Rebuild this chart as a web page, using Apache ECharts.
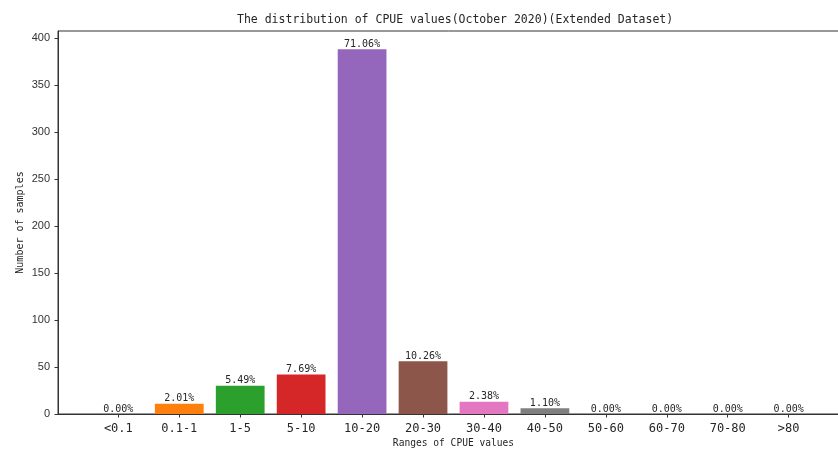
<!DOCTYPE html>
<html>
<head>
<meta charset="utf-8">
<script src="https://cdn.jsdelivr.net/npm/echarts@6/dist/echarts.min.js"></script>
<style>
  html, body { margin: 0; padding: 0; background: #fff; }
  #chart { width: 838px; height: 450px; }
</style>
</head>
<body>
<div id="chart"></div>
<script>
// CPUE range bins and sample counts per bin
const categories = ['<0.1', '0.1-1', '1-5', '5-10', '10-20', '20-30', '30-40', '40-50', '50-60', '60-70', '70-80', '>80'];
const counts = [0, 11, 30, 42, 388, 56, 13, 6, 0, 0, 0, 0];
const barColors = ['#1f77b4', '#ff7f0e', '#2ca02c', '#d62728', '#9467bd', '#8c564b', '#e377c2', '#7f7f7f', '#bcbd22', '#17becf', '#1f77b4', '#ff7f0e'];
const yTicks = [0, 50, 100, 150, 200, 250, 300, 350, 400];

const total = counts.reduce((a, b) => a + b, 0);
const positions = categories.map((_, i) => i);

// Axis limits with a 5% margin around the bars (bar width 0.8)
const xMin = -0.4 - 0.05 * 11.8;
const xMax = 11.4 + 0.05 * 11.8;
const yMax = Math.max(...counts) * 1.05;

const gridLeft = 58, gridTop = 31, gridWidth = 791, gridHeight = 383;
const pxPerUnit = gridWidth / (xMax - xMin);

const mono = '"DejaVu Sans Mono", monospace';
const textColor = '#262626';

const chart = echarts.init(document.getElementById('chart'), null, { renderer: 'canvas' });

chart.setOption({
  animation: false,
  backgroundColor: '#fff',
  title: {
    text: 'The distribution of CPUE values(October 2020)(Extended Dataset)',
    left: 232,
    top: 9,
    textStyle: { fontFamily: mono, fontSize: 11.5, fontWeight: 'normal', color: textColor }
  },
  grid: {
    left: gridLeft, top: gridTop, width: gridWidth, height: gridHeight,
    containLabel: false,
    outerBoundsMode: 'none',
    show: true, borderColor: '#333', borderWidth: 1, backgroundColor: 'transparent'
  },
  xAxis: {
    type: 'value',
    min: xMin,
    max: xMax,
    name: 'Ranges of CPUE values',
    nameLocation: 'middle',
    nameGap: 24,
    nameMoveOverlap: false,
    nameTextStyle: { fontFamily: mono, fontSize: 9.6, color: textColor },
    axisLine: { show: true, onZero: false, lineStyle: { color: '#333', width: 1 } },
    axisTick: { show: true, length: 3.5, inside: false, customValues: positions, lineStyle: { color: '#333' } },
    axisLabel: {
      customValues: positions,
      formatter: v => categories[Math.round(v)],
      fontFamily: mono, fontSize: 12, color: textColor, margin: 9
    },
    splitLine: { show: false }
  },
  yAxis: {
    type: 'value',
    min: 0,
    max: yMax,
    name: 'Number of samples',
    nameLocation: 'middle',
    nameGap: 33,
    nameMoveOverlap: false,
    nameTextStyle: { fontFamily: mono, fontSize: 10, color: textColor },
    axisLine: { show: true, onZero: false, lineStyle: { color: '#333', width: 1 } },
    axisTick: { show: true, length: 3.5, customValues: yTicks, lineStyle: { color: '#333' } },
    axisLabel: {
      customValues: yTicks,
      fontFamily: '"Liberation Sans", Arial, sans-serif', fontSize: 11, color: '#333', margin: 8
    },
    splitLine: { show: false }
  },
  series: [{
    type: 'bar',
    barWidth: 0.8 * pxPerUnit,
    data: counts.map((c, i) => ({
      value: [positions[i], c],
      itemStyle: { color: barColors[i] }
    })),
    label: {
      show: true,
      position: 'top',
      distance: 0,
      formatter: p => (p.value[1] / total * 100).toFixed(2) + '%',
      fontFamily: mono, fontSize: 10, color: textColor
    }
  }]
});
</script>
</body>
</html>
